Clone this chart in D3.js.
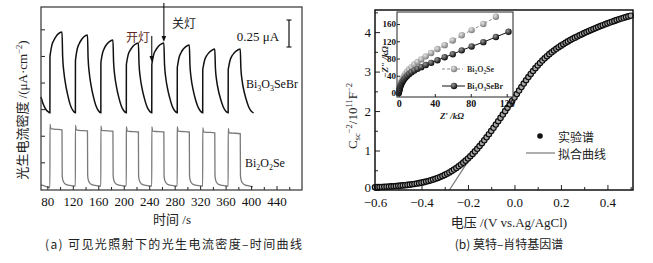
<!DOCTYPE html>
<html><head><meta charset="utf-8">
<script src="https://cdn.jsdelivr.net/npm/d3@7"></script>
<style>body{margin:0;background:#fff}svg{display:block}</style>
</head><body>
<svg id="c" width="653" height="263"></svg>
<script>
// ---------------- DATA ----------------
// (a) photocurrent vs time
const timeTicks = [80,120,160,200,240,280,320,360,400,440];
const timeMinorTicks = [100,140,180,220,260,300,340,380,420,460];
const currentTicks = [1,2,3,4,5,6];
const bi3o3sebrCurve = [
 [70,3.46],[73,3.22],[76,3.06],[79,2.95],[82,2.89],[84,2.86],
 [84.1,4.96],[85,5.13],[87,5.40],[90,5.58],[93,5.71],[97,5.83],[103,5.90],
 [104,4.99],[106,4.38],[108.5,3.95],[112,3.53],[116,3.16],[120,2.95],[124,2.86],
 [124.1,4.81],[125,4.99],[127,5.27],[130,5.46],[133,5.59],[137,5.71],[143,5.79],
 [144,4.91],[146,4.33],[148.5,3.91],[152,3.50],[156,3.15],[160,2.95],[164,2.86],
 [164.1,4.74],[165,4.90],[167,5.14],[170,5.31],[173,5.43],[177,5.53],[183,5.60],
 [184,4.78],[186,4.23],[188.5,3.85],[192,3.46],[196,3.13],[200,2.94],[204,2.86],
 [204.1,4.66],[205,4.81],[207,5.05],[210,5.21],[213,5.32],[217,5.42],[223,5.49],
 [224,4.70],[226,4.18],[228.5,3.81],[232,3.44],[236,3.12],[240,2.94],[244,2.86],
 [244.1,4.66],[245,4.81],[247,5.05],[250,5.21],[253,5.32],[257,5.42],[263,5.49],
 [264,4.70],[266,4.18],[268.5,3.81],[272,3.44],[276,3.12],[280,2.94],[284,2.86],
 [284.1,4.55],[285,4.70],[287,4.95],[290,5.12],[293,5.24],[297,5.34],[303,5.41],
 [304,4.65],[306,4.14],[308.5,3.78],[312,3.42],[316,3.12],[320,2.94],[324,2.86],
 [324.1,4.47],[325,4.61],[327,4.84],[330,5.00],[333,5.10],[337,5.19],[343,5.26],
 [344,4.54],[346,4.06],[348.5,3.72],[352,3.39],[356,3.10],[360,2.93],[364,2.86],
 [364.1,4.47],[365,4.61],[367,4.84],[370,5.00],[373,5.10],[377,5.19],[383,5.26],
 [384,4.54],[386,4.06],[388.5,3.72],[392,3.39],[396,3.10],[400,2.93],[404,2.86]
];
const bi2o2seCurve = [
 [70,0.15],[74,0.12],[78,0.09],[82,0.06],[84,0.05],
 [84.1,2.44],[85.5,2.27],[90,2.25],[103,2.22],[103.3,0.50],[104.5,0.32],[106,0.24],[109,0.17],[115,0.13],[124,0.11],
 [124.1,2.40],[125.5,2.22],[130,2.20],[143,2.18],[143.3,0.50],[144.5,0.32],[146,0.24],[149,0.17],[155,0.13],[164,0.11],
 [164.1,2.37],[165.5,2.20],[170,2.19],[183,2.17],[183.3,0.50],[184.5,0.32],[186,0.24],[189,0.17],[195,0.13],[204,0.11],
 [204.1,2.34],[205.5,2.17],[210,2.16],[223,2.14],[223.3,0.50],[224.5,0.32],[226,0.24],[229,0.17],[235,0.13],[244,0.11],
 [244.1,2.34],[245.5,2.17],[250,2.16],[263,2.14],[263.3,0.50],[264.5,0.32],[266,0.24],[269,0.17],[275,0.13],[284,0.11],
 [284.1,2.34],[285.5,2.17],[290,2.16],[303,2.14],[303.3,0.50],[304.5,0.32],[306,0.24],[309,0.17],[315,0.13],[324,0.11],
 [324.1,2.30],[325.5,2.14],[330,2.13],[343,2.11],[343.3,0.50],[344.5,0.32],[346,0.24],[349,0.17],[355,0.13],[364,0.11],
 [364.1,2.28],[365.5,2.11],[370,2.10],[383,2.08],[383.3,0.50],[384.5,0.32],[386,0.24],[389,0.17],[395,0.12],[403,0.08]
];
const lightOnTime = 244, lightOffTime = 263;

// (b) Mott-Schottky
const voltTicks = [-0.6,-0.4,-0.2,0.0,0.2,0.4];
const voltMinorTicks = [-0.5,-0.3,-0.1,0.1,0.3,0.5];
const capTicks = [0,1,2,3,4];
const capMinorTicks = [0.5,1.5,2.5,3.5,4.5];
const msVoltage = [-0.60,-0.59,-0.58,-0.57,-0.56,-0.55,-0.54,-0.53,-0.52,-0.51,-0.50,-0.49,-0.48,-0.47,-0.46,-0.45,-0.44,-0.43,-0.42,-0.41,-0.40,-0.39,-0.38,-0.37,-0.36,-0.35,-0.34,-0.33,-0.32,-0.31,-0.30,-0.29,-0.28,-0.27,-0.26,-0.25,-0.24,-0.23,-0.22,-0.21,-0.20,-0.19,-0.18,-0.17,-0.16,-0.15,-0.14,-0.13,-0.12,-0.11,-0.10,-0.09,-0.08,-0.07,-0.06,-0.05,-0.04,-0.03,-0.02,-0.01,0.00,0.01,0.02,0.03,0.04,0.05,0.06,0.07,0.08,0.09,0.10,0.11,0.12,0.13,0.14,0.15,0.16,0.17,0.18,0.19,0.20,0.21,0.22,0.23,0.24,0.25,0.26,0.27,0.28,0.29,0.30,0.31,0.32,0.33,0.34,0.35,0.36,0.37,0.38,0.39,0.40,0.41,0.42,0.43,0.44,0.45,0.46,0.47,0.48,0.49,0.50];
const msValue = [0.070,0.072,0.074,0.077,0.080,0.083,0.087,0.091,0.095,0.100,0.105,0.110,0.116,0.122,0.129,0.136,0.144,0.153,0.163,0.174,0.186,0.199,0.213,0.228,0.245,0.263,0.283,0.305,0.329,0.355,0.383,0.413,0.445,0.480,0.517,0.557,0.600,0.645,0.693,0.744,0.798,0.855,0.915,0.978,1.044,1.113,1.185,1.259,1.335,1.413,1.493,1.575,1.658,1.742,1.827,1.912,1.998,2.084,2.170,2.256,2.342,2.431,2.520,2.608,2.695,2.780,2.862,2.940,3.015,3.087,3.155,3.219,3.279,3.336,3.390,3.441,3.489,3.534,3.577,3.618,3.657,3.694,3.730,3.764,3.797,3.829,3.860,3.890,3.919,3.947,3.975,4.002,4.028,4.054,4.079,4.104,4.128,4.152,4.175,4.198,4.220,4.242,4.263,4.284,4.304,4.324,4.343,4.362,4.380,4.398,4.415];
const fitLine = [[-0.28,0],[-0.155,1.13]];

// inset Nyquist
const nyqXTicks = [0,40,80,120];
const nyqYTicks = [0,40,80,120,160];
const nyqBi2o2se = [[0,0],[0.4,5],[0.8,10],[1.3,15],[1.9,20],[2.6,25],[3.5,30],[4.6,35],[5.9,40],[7.5,45],[9.4,50],[11.6,55],[14.2,60],[17.2,66],[20.8,72],[25,78],[30,85],[36,93],[43,102],[51,111],[60,122],[70,134],[81,146],[94,160],[108,177]];
const nyqBi3o3sebr = [[0,0],[0.4,4],[0.8,8],[1.3,12],[1.9,16],[2.6,20],[3.5,24],[4.6,28],[5.9,32],[7.5,36],[9.4,40],[11.6,44],[14.2,48],[17.2,52],[20.8,56],[25,60],[30,65],[36,70],[43,76],[51,83],[60,90],[70,99],[81,108],[94,118],[108,130],[122,142]];

// ---------------- DRAW ----------------
const SERIF = "'Liberation Serif','Times New Roman',serif";
const CJK = "'Noto Sans CJK SC','Noto Sans CJK JP',sans-serif";
const svg = d3.select("#c");
const defs = svg.append("defs");
function grad(id, c0, c1){
  const g = defs.append("radialGradient").attr("id",id).attr("cx","38%").attr("cy","35%").attr("r","65%");
  g.append("stop").attr("offset","0%").attr("stop-color",c0);
  g.append("stop").attr("offset","100%").attr("stop-color",c1);
}
grad("gGray","#e6e6e6","#7d7d7d");
grad("gBlack","#9a9a9a","#0a0a0a");

// rich text with sub/superscripts using dy shifts
function rich(sel, parts, size){
  let shift = 0;
  parts.forEach(p=>{
    const t = sel.append("tspan").text(p[0]);
    let target = 0;
    if(p[1]==="sub"){ target = size*0.25; t.attr("font-size",size*0.66); }
    else if(p[1]==="sup"){ target = -size*0.38; t.attr("font-size",size*0.66); }
    else if(p[1]==="cjk"){ t.attr("font-family",CJK); }
    if(target!==shift){ t.attr("dy",target-shift); shift = target; }
  });
}
function styleAxis(g, size){
  g.select(".domain").remove();
  g.attr("font-family",SERIF).attr("font-size",size);
  g.selectAll("line").attr("stroke","#222");
  g.selectAll("text").attr("fill","#111");
}

// ===== panel (a) =====
const L = {x0:41,x1:302,y0:7,y1:190};
const xL = d3.scaleLinear().domain([70,480]).range([L.x0,L.x1]);
const yL = d3.scaleLinear().domain([-0.04,6.84]).range([L.y1,L.y0]);
const lineL = d3.line().x(d=>xL(d[0])).y(d=>yL(d[1])).curve(d3.curveMonotoneX);

svg.append("path").attr("d",lineL(bi2o2seCurve)).attr("fill","none").attr("stroke","#7a7a7a").attr("stroke-width",1.3);
svg.append("path").attr("d",lineL(bi3o3sebrCurve)).attr("fill","none").attr("stroke","#111").attr("stroke-width",1.5);

let ax = svg.append("g").attr("transform",`translate(0,${L.y1})`)
  .call(d3.axisBottom(xL).tickValues(timeTicks).tickSize(-4).tickPadding(7).tickFormat(d3.format("d")));
styleAxis(ax,13);
ax = svg.append("g").attr("transform",`translate(0,${L.y1})`)
  .call(d3.axisBottom(xL).tickValues(timeMinorTicks).tickSize(-3).tickFormat(""));
styleAxis(ax,13);
ax = svg.append("g").attr("transform",`translate(${L.x0},0)`)
  .call(d3.axisLeft(yL).tickValues(currentTicks).tickSize(-4).tickFormat(""));
styleAxis(ax,13);
svg.append("rect").attr("x",L.x0).attr("y",L.y0).attr("width",L.x1-L.x0).attr("height",L.y1-L.y0)
  .attr("fill","none").attr("stroke","#333").attr("stroke-width",1.2);

// arrows
function arrow(x, ya, yb){
  svg.append("line").attr("x1",x).attr("x2",x).attr("y1",ya).attr("y2",yb-4).attr("stroke","#111").attr("stroke-width",1.1);
  svg.append("path").attr("d",`M${x-2.3},${yb-6}L${x+2.3},${yb-6}L${x},${yb}Z`).attr("fill","#111");
}
arrow(xL(lightOnTime), 36, 62);
arrow(xL(lightOffTime), 3, 42);
svg.append("text").attr("x",138).attr("y",36).attr("text-anchor","middle").attr("dominant-baseline","central")
  .attr("font-family",CJK).attr("font-size",12).attr("fill","#5e2a20").text("开灯");
svg.append("text").attr("x",184).attr("y",22).attr("text-anchor","middle").attr("dominant-baseline","central")
  .attr("font-family",CJK).attr("font-size",12).attr("fill","#222").text("关灯");

// scale bar
svg.append("line").attr("x1",289).attr("x2",289).attr("y1",20).attr("y2",47).attr("stroke","#111").attr("stroke-width",1.2);
svg.append("line").attr("x1",286.5).attr("x2",291.5).attr("y1",20).attr("y2",20).attr("stroke","#111").attr("stroke-width",1.1);
svg.append("line").attr("x1",286.5).attr("x2",291.5).attr("y1",47).attr("y2",47).attr("stroke","#111").attr("stroke-width",1.1);
svg.append("text").attr("x",258).attr("y",36).attr("text-anchor","middle").attr("dominant-baseline","central")
  .attr("font-family",SERIF).attr("font-size",13).attr("fill","#111").text("0.25 μA");

// series labels
let t = svg.append("text").attr("x",246).attr("y",88).attr("font-family",SERIF).attr("font-size",12).attr("fill","#111");
rich(t,[["Bi"],["3","sub"],["O"],["3","sub"],["SeBr"]],12);
t = svg.append("text").attr("x",245).attr("y",167).attr("font-family",SERIF).attr("font-size",12).attr("fill","#111");
rich(t,[["Bi"],["2","sub"],["O"],["2","sub"],["Se"]],12);

// axis titles
t = svg.append("text").attr("transform","translate(27,110) rotate(-90)").attr("text-anchor","middle")
  .attr("font-family",SERIF).attr("font-size",13).attr("fill","#222");
rich(t,[["光生电流密度","cjk"],[" /(μA·cm"],["−2","sup"],[")"]],13);
t = svg.append("text").attr("x",172).attr("y",224).attr("text-anchor","middle")
  .attr("font-family",SERIF).attr("font-size",13).attr("fill","#222");
rich(t,[["时间","cjk"],[" /s"]],13);
svg.append("text").attr("x",45).attr("y",249).attr("textLength",257).attr("lengthAdjust","spacing")
  .attr("font-family",CJK).attr("font-size",12).attr("fill","#222").text("(a) 可见光照射下的光生电流密度–时间曲线");

// ===== panel (b) =====
const R = {x0:375,x1:633,y0:10,y1:190};
const xR = d3.scaleLinear().domain([-0.6,0.51]).range([R.x0,R.x1]);
const yR = d3.scaleLinear().domain([0,4.56]).range([R.y1,R.y0]);

svg.append("path").attr("d",d3.line().x(d=>xR(d[0])).y(d=>yR(d[1]))(fitLine))
  .attr("stroke","#7a7a7a").attr("stroke-width",1.3).attr("fill","none");
svg.append("g").selectAll("circle").data(msVoltage.map((v,i)=>[v,msValue[i]])).join("circle")
  .attr("cx",d=>xR(d[0])).attr("cy",d=>yR(d[1])).attr("r",2.7)
  .attr("fill","#a8a8a8").attr("stroke","#0d0d0d").attr("stroke-width",1.2);

ax = svg.append("g").attr("transform",`translate(0,${R.y1})`)
  .call(d3.axisBottom(xR).tickValues(voltTicks).tickSize(-5).tickPadding(8).tickFormat(d=>d3.format(".1f")(d).replace("-","−")));
styleAxis(ax,13);
ax = svg.append("g").attr("transform",`translate(0,${R.y1})`)
  .call(d3.axisBottom(xR).tickValues(voltMinorTicks).tickSize(-3).tickFormat(""));
styleAxis(ax,13);
ax = svg.append("g").attr("transform",`translate(${R.x0},0)`)
  .call(d3.axisLeft(yR).tickValues(capTicks).tickSize(-5).tickPadding(4).tickFormat(d3.format("d")));
styleAxis(ax,13);
ax.selectAll(".tick text").filter(d=>d===0).attr("dy","0.1em");
ax = svg.append("g").attr("transform",`translate(${R.x0},0)`)
  .call(d3.axisLeft(yR).tickValues(capMinorTicks).tickSize(-3).tickFormat(""));
styleAxis(ax,13);
svg.append("rect").attr("x",R.x0).attr("y",R.y0).attr("width",R.x1-R.x0).attr("height",R.y1-R.y0)
  .attr("fill","none").attr("stroke","#111").attr("stroke-width",1.5);

// legend
svg.append("circle").attr("cx",540).attr("cy",136).attr("r",2.8).attr("fill","#111");
svg.append("text").attr("x",558).attr("y",136).attr("dominant-baseline","central").attr("font-family",CJK)
  .attr("font-size",12).attr("fill","#222").text("实验谱");
svg.append("line").attr("x1",526).attr("x2",555).attr("y1",153).attr("y2",153).attr("stroke","#7a7a7a").attr("stroke-width",1.2);
svg.append("text").attr("x",558).attr("y",153).attr("dominant-baseline","central").attr("font-family",CJK)
  .attr("font-size",12).attr("fill","#222").text("拟合曲线");

// axis titles
t = svg.append("text").attr("transform","translate(357,116) rotate(-90)").attr("text-anchor","middle")
  .attr("font-family",SERIF).attr("font-size",13).attr("fill","#222");
rich(t,[["C"],["sc","sub"],["−2","sup"],["/10"],["11","sup"],["F"],["−2","sup"]],13);
t = svg.append("text").attr("x",509).attr("y",227).attr("text-anchor","middle")
  .attr("font-family",SERIF).attr("font-size",13).attr("fill","#222");
rich(t,[["电压","cjk"],[" /(V vs.Ag/AgCl)"]],13);
svg.append("text").attr("x",509).attr("y",249).attr("text-anchor","middle")
  .attr("font-family",CJK).attr("font-size",12).attr("fill","#222").text("(b) 莫特–肖特基因谱");

// ===== inset =====
const I = {x0:397,x1:513,y0:12,y1:97};
const xI = d3.scaleLinear().domain([-2,127]).range([I.x0,I.x1]);
const yI = d3.scaleLinear().domain([-9.3,188]).range([I.y1,I.y0]);
svg.append("rect").attr("x",I.x0).attr("y",I.y0).attr("width",I.x1-I.x0).attr("height",I.y1-I.y0)
  .attr("fill","#fff").attr("stroke","none");
const lineI = d3.line().x(d=>xI(d[0])).y(d=>yI(d[1]));
svg.append("path").attr("d",lineI(nyqBi2o2se)).attr("fill","none").attr("stroke","#8a8a8a").attr("stroke-width",1).attr("stroke-dasharray","3,2");
svg.append("path").attr("d",lineI(nyqBi3o3sebr)).attr("fill","none").attr("stroke","#111").attr("stroke-width",1);
svg.append("g").selectAll("circle").data(nyqBi2o2se).join("circle")
  .attr("cx",d=>xI(d[0])).attr("cy",d=>yI(d[1])).attr("r",3.2).attr("fill","url(#gGray)");
svg.append("g").selectAll("circle").data(nyqBi3o3sebr).join("circle")
  .attr("cx",d=>xI(d[0])).attr("cy",d=>yI(d[1])).attr("r",3.2).attr("fill","url(#gBlack)");

ax = svg.append("g").attr("transform",`translate(0,${I.y1})`)
  .call(d3.axisBottom(xI).tickValues(nyqXTicks).tickSize(-3).tickPadding(2.5).tickFormat(d3.format("d")));
styleAxis(ax,10); ax.selectAll("text").attr("font-weight","bold");
ax = svg.append("g").attr("transform",`translate(${I.x0},0)`)
  .call(d3.axisLeft(yI).tickValues(nyqYTicks).tickSize(-3).tickPadding(1).tickFormat(d3.format("d")));
styleAxis(ax,9); ax.selectAll("text").attr("font-weight","bold");
svg.append("rect").attr("x",I.x0).attr("y",I.y0).attr("width",I.x1-I.x0).attr("height",I.y1-I.y0)
  .attr("fill","none").attr("stroke","#222").attr("stroke-width",1);

// inset legend
svg.append("line").attr("x1",442).attr("x2",463).attr("y1",69).attr("y2",69).attr("stroke","#8a8a8a").attr("stroke-dasharray","3,2");
svg.append("circle").attr("cx",454).attr("cy",69).attr("r",3.2).attr("fill","url(#gGray)");
t = svg.append("text").attr("x",467).attr("y",71.5).attr("font-family",SERIF).attr("font-size",8).attr("font-weight","bold").attr("fill","#333");
rich(t,[["Bi"],["2","sub"],["O"],["2","sub"],["Se"]],8);
svg.append("line").attr("x1",442).attr("x2",465).attr("y1",86).attr("y2",86).attr("stroke","#111");
svg.append("circle").attr("cx",454).attr("cy",86).attr("r",3.2).attr("fill","url(#gBlack)");
t = svg.append("text").attr("x",467).attr("y",88.5).attr("font-family",SERIF).attr("font-size",8).attr("font-weight","bold").attr("fill","#222");
rich(t,[["Bi"],["3","sub"],["O"],["3","sub"],["SeBr"]],8);

// inset axis titles
t = svg.append("text").attr("x",452).attr("y",119).attr("text-anchor","middle")
  .attr("font-family",SERIF).attr("font-size",9).attr("font-style","italic").attr("font-weight","bold").attr("fill","#222");
t.text("Z′ /kΩ");
t = svg.append("text").attr("transform","translate(388,62) rotate(-90)").attr("text-anchor","middle")
  .attr("font-family",SERIF).attr("font-size",9).attr("font-style","italic").attr("font-weight","bold").attr("fill","#222");
t.text("−Z″ /kΩ");
</script>
</body></html>
